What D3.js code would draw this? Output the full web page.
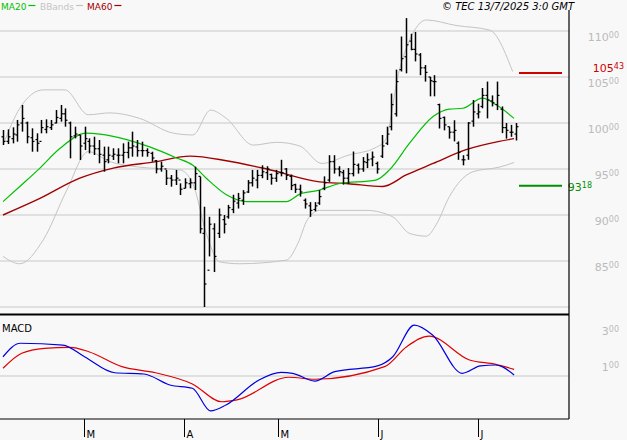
<!DOCTYPE html>
<html>
<head>
<meta charset="utf-8">
<script src="https://cdn.jsdelivr.net/npm/d3@7"></script>
<style>
  body { margin: 0; background: #f8f8f8; }
  svg { display: block; font-family: "DejaVu Sans", sans-serif; }
</style>
</head>
<body>
<svg id="chart" width="627" height="440"></svg>
<script>
// daily bars, index 0..107
const highs = [99.24,99.31,99.53,100.33,101.96,100.15,99.42,98.88,100.33,100.4,
  100.33,101.41,101.96,101.59,100.15,99.6,98.7,99.6,98.33,98.51,
  98.15,97.43,97.43,97.25,97.25,97.79,97.97,99.06,98.15,97.97,
  97.25,96.88,95.98,95.8,94.89,94.35,94.89,93.44,93.99,93.99,
  95.25,94.17,90.9,89.8,89.1,90.7,90.0,91.1,92.2,92.4,
  92.7,93.8,94.9,94.9,95.4,95.3,94.5,94.9,96.0,95.1,
  94.4,93.4,93.3,91.8,91.4,91.4,92.7,94.2,96.5,96.5,
  95.3,94.9,95.1,96.9,95.6,96.3,96.7,96.9,95.8,98.7,
  99.6,103.2,105.8,109.4,111.4,109.7,109.9,107.6,106.3,105.0,
  105.2,102.1,100.7,99.6,100.3,98.0,96.5,100.1,102.5,102.1,
  103.8,104.5,103.0,104.5,101.8,100.0,99.8,100.0];
const lows = [97.61,97.72,97.79,97.97,99.06,97.79,96.88,96.88,98.88,98.88,
  99.24,99.96,100.15,99.6,96.16,98.33,95.98,97.06,96.7,96.52,
  95.62,94.71,95.62,95.98,95.62,95.62,96.16,96.34,96.34,96.34,
  96.34,95.8,94.53,94.71,93.26,93.08,93.26,92.17,92.9,92.9,
  92.72,88.0,80.0,85.5,83.8,87.5,88.0,89.6,90.2,90.7,
  91.1,92.4,93.1,92.9,94.0,93.8,93.3,93.6,94.2,93.8,
  92.7,92.4,92.0,90.7,89.8,90.4,91.1,92.7,93.6,94.5,
  94.2,93.3,93.4,94.2,94.5,94.7,95.1,95.3,94.5,96.2,
  97.6,99.2,100.7,105.6,105.4,107.9,106.7,105.2,104.5,102.9,
  102.9,99.4,99.2,98.3,98.0,96.0,95.4,96.0,99.6,100.5,
  101.6,100.5,101.8,101.4,98.9,98.3,98.5,98.1];
const opens = [98.5,98.0,98.3,98.7,100.0,100.0,98.4,98.2,98.0,99.3,
  99.5,100.0,100.5,101.0,100.0,98.6,98.7,97.8,98.0,97.5,
  97.2,96.5,96.0,96.4,96.5,96.5,96.8,97.3,97.4,97.0,
  97.0,96.7,95.9,95.0,95.0,94.0,93.8,93.8,92.9,93.4,
  93.5,94.2,88.0,84.0,88.5,88.0,89.5,89.8,90.6,91.3,
  91.6,92.5,93.5,93.8,94.3,94.6,94.4,94.0,94.6,95.0,
  94.2,93.3,92.8,91.6,91.0,90.6,91.3,92.9,93.8,95.8,
  95.0,94.6,94.0,94.5,95.4,95.0,95.7,96.1,95.6,96.4,
  97.8,99.6,101.0,105.8,107.2,108.9,108.0,107.4,106.0,105.0,
  104.5,102.0,100.6,99.6,99.0,97.8,96.0,96.5,100.2,101.0,
  101.8,103.0,102.4,102.0,101.5,99.5,99.0,98.8];
const closes = [98.0,98.5,98.8,99.8,100.5,98.5,98.0,97.8,99.5,99.6,
  99.8,100.6,101.0,100.3,98.5,98.8,97.5,98.3,97.5,97.2,
  96.6,95.8,96.5,96.6,96.5,96.8,97.3,97.5,97.0,97.0,
  96.8,96.2,95.0,95.3,94.0,93.8,94.0,92.8,93.5,93.5,
  94.5,88.5,82.5,89.0,85.5,90.0,89.0,90.8,91.5,91.8,
  92.4,93.5,94.0,94.3,94.7,95.0,94.0,94.5,94.6,94.3,
  93.2,92.8,92.5,91.2,90.5,91.0,92.0,93.5,95.8,95.0,
  94.7,94.0,94.5,95.5,95.0,95.8,96.0,96.3,95.0,97.5,
  98.8,102.0,104.5,107.0,108.5,108.0,107.5,106.0,105.5,104.6,
  104.5,100.5,99.8,99.0,99.2,96.8,96.0,100.0,101.2,101.2,
  103.0,102.5,102.2,103.0,99.5,99.2,99.0,99.6];

// indicator lines: [bar index, value]
const ma20 = [[0,91.45],[3.5,93.1],[7.7,95.1],[11.9,97.25],[17.4,98.9],[20.2,98.8],[25.8,98.2],
  [30.6,97.4],[36.2,96.2],[39.6,95.4],[42.4,94.0],[46.6,92.2],[50.8,91.45],[59.1,91.45],
  [62,92.3],[66,92.7],[70,93.4],[77.8,93.8],[80.6,94.9],[84.8,97.8],[89.7,100.7],
  [93.1,101.5],[95.9,101.6],[100,102.7],[102.8,102.0],[106.6,100.5]];
const ma60 = [[0,90.0],[7.7,91.8],[16,94.0],[23,95.1],[31.9,95.8],[39,96.4],[46.6,95.9],
  [55,95.0],[66,93.6],[72,93.4],[79.2,93.1],[84.1,94.35],[89.7,95.6],[96.6,97.1],
  [103.5,98.0],[106.6,98.3]];
const bbUpper = [[0,97.6],[3.5,101.6],[8.4,103.6],[12.9,103.6],[17.8,100.9],[22.3,101.1],
  [28.5,100.5],[35.5,98.9],[39.6,98.7],[43.3,101.4],[46.6,100.5],[52.2,97.6],[57.1,97.9],
  [61.9,97.5],[66.5,95.6],[72,96.5],[77.6,97.3],[79.7,98.1],[82.6,105.6],[84.8,109.0],
  [88.3,111.2],[94.5,110.6],[101.5,110.1],[106.3,105.6]];
const bbLower = [[0,85.5],[3.5,84.7],[8.4,87.3],[13.3,92.7],[17.8,96.9],[22.3,95.8],
  [28.5,95.2],[36.9,94.9],[39.6,93.4],[42.4,88.0],[45.2,84.9],[49.4,84.7],[59.1,85.1],
  [61.5,86.9],[63.5,89.5],[66,90.5],[75.8,90.5],[81.3,89.8],[84.8,88.0],[88.3,87.7],
  [90.4,89.0],[93.1,92.0],[98,94.7],[103.5,95.2],[106.6,95.7]];
const macdLine = [[0,2.07],[3.6,2.82],[12.5,2.72],[17,2.07],[23.3,1.18],[29.4,1.11],[34.8,0.5],
  [39.5,0.32],[43.3,-0.94],[46.5,-0.61],[53.4,0.78],[58,1.2],[60.4,1.15],[65,0.72],
  [69.2,1.24],[78.1,1.56],[81.3,2.07],[85.8,3.83],[89.6,3.28],[95.8,1.15],[99.6,1.56],
  [102.8,1.61],[106.6,1.06]];
const signalLine = [[0,1.43],[3.9,2.26],[8.6,2.54],[14,2.59],[17.9,2.35],[24.8,1.52],[31.8,1.18],
  [39.5,0.56],[45.6,-0.43],[48.8,-0.33],[59.6,0.93],[65,0.82],[79.6,1.52],[84.2,2.63],
  [88.9,3.22],[97.3,1.89],[102.8,1.65],[106.6,1.37]];

const priceTicks = [85, 90, 95, 100, 105, 110];
const macdTicks = [1, 3];
const monthLabels = ["M", "A", "M", "J", "J"];
const monthIdx = [16.9, 37.8, 57.4, 78.2, 99.1];
const resistance = 105.43, support = 93.18;

const svg = d3.select("#chart");
const W = 569;
const x = d3.scaleLinear().domain([0, 107]).range([3, 516]);
const y = d3.scaleLinear().domain([80, 110]).range([307, 31]);
const ym = d3.scaleLinear().domain([1, 3]).range([376, 340]);

svg.append("rect").attr("width", 627).attr("height", 440).attr("fill", "#f8f8f8");

// grid
svg.selectAll(".pg").data(priceTicks.concat([80])).join("line")
  .attr("x1", 0).attr("x2", W).attr("y1", d => y(d)).attr("y2", d => y(d))
  .attr("stroke", "#c8c8c8");
svg.append("line").attr("x1", 0).attr("x2", W).attr("y1", ym(1)).attr("y2", ym(1)).attr("stroke", "#c8c8c8");

// number with small raised decimals, right aligned at xr
function labelNum(v, xr, yy, color) {
  const t = svg.append("text").attr("x", xr).attr("y", yy).attr("text-anchor", "end")
    .attr("fill", color).attr("font-size", 11);
  t.append("tspan").text(Math.floor(v));
  t.append("tspan").attr("font-size", 8).attr("dy", -3)
    .text(String(Math.round((v % 1) * 100)).padStart(2, "0"));
  return t;
}
priceTicks.forEach(v => labelNum(v, 619, y(v) + 10, "#bbb"));
macdTicks.forEach(v => labelNum(v, 619, ym(v) - 5, "#bbb"));

// bands and averages
const line = d3.line().x(d => x(d[0])).y(d => y(d[1])).curve(d3.curveMonotoneX);
svg.append("path").attr("d", line(bbUpper)).attr("fill", "none").attr("stroke", "#c4c4c4");
svg.append("path").attr("d", line(bbLower)).attr("fill", "none").attr("stroke", "#c4c4c4");
svg.append("path").attr("d", line(ma60)).attr("fill", "none").attr("stroke", "#a00000").attr("stroke-width", 1.4);
svg.append("path").attr("d", line(ma20)).attr("fill", "none").attr("stroke", "#00c000").attr("stroke-width", 1.2);

// bars
const bars = svg.append("g").attr("stroke", "#000").attr("stroke-width", 1.5);
closes.forEach((c, i) => {
  const xi = Math.round(x(i)) + 0.5;
  bars.append("line").attr("x1", xi).attr("x2", xi).attr("y1", y(highs[i])).attr("y2", y(lows[i]));
  bars.append("line").attr("x1", xi - 2).attr("x2", xi).attr("y1", y(opens[i])).attr("y2", y(opens[i])).attr("stroke-width", 1.2);
  bars.append("line").attr("x1", xi).attr("x2", xi + 2).attr("y1", y(c)).attr("y2", y(c)).attr("stroke-width", 1.2);
});

// levels
svg.append("line").attr("x1", 519).attr("x2", 562).attr("y1", y(resistance)).attr("y2", y(resistance))
  .attr("stroke", "#d00000").attr("stroke-width", 2);
svg.append("line").attr("x1", 519).attr("x2", 562).attr("y1", y(support)).attr("y2", y(support))
  .attr("stroke", "#009000").attr("stroke-width", 2);
labelNum(resistance, 624, y(resistance) - 1, "#d00000");
labelNum(support, 592, y(support) + 5, "#009000");

// macd
const mline = d3.line().x(d => x(d[0])).y(d => ym(d[1])).curve(d3.curveMonotoneX);
svg.append("path").attr("d", mline(signalLine)).attr("fill", "none").attr("stroke", "#e00000").attr("stroke-width", 1.2);
svg.append("path").attr("d", mline(macdLine)).attr("fill", "none").attr("stroke", "#0000e0").attr("stroke-width", 1.2);
svg.append("text").attr("x", 2).attr("y", 332).attr("font-size", 10).attr("fill", "#000").text("MACD");

// frames
svg.append("line").attr("x1", 0).attr("x2", W).attr("y1", 314.5).attr("y2", 314.5).attr("stroke", "#000").attr("stroke-width", 2);
svg.append("line").attr("x1", W).attr("x2", W).attr("y1", 10).attr("y2", 419).attr("stroke", "#000").attr("stroke-width", 1.2);
svg.append("line").attr("x1", 0).attr("x2", W).attr("y1", 419).attr("y2", 419).attr("stroke", "#000").attr("stroke-width", 1.2);

// month axis
const mg = svg.append("g");
monthIdx.forEach((m, k) => {
  const xm = Math.round(x(m)) + 0.5;
  mg.append("line").attr("x1", xm).attr("x2", xm).attr("y1", 419).attr("y2", 437).attr("stroke", "#000");
  mg.append("text").attr("x", xm + 2).attr("y", 438).attr("font-size", 10).attr("fill", "#000").text(monthLabels[k]);
});

// header
const leg = [["MA20", "#00c000", 1], ["BBands", "#c4c4c4", 40], ["MA60", "#a00000", 87]];
leg.forEach(([t, c, lx]) => {
  const tx = svg.append("text").attr("x", lx).attr("y", 10).attr("font-size", 9).attr("fill", c).text(t);
  const w = tx.node().getComputedTextLength();
  svg.append("line").attr("x1", lx + w + 2).attr("x2", lx + w + 9).attr("y1", 5.5).attr("y2", 5.5).attr("stroke", c).attr("stroke-width", 1.2);
});
svg.append("text").attr("x", 574).attr("y", 10).attr("text-anchor", "end").attr("font-size", 10)
  .attr("font-style", "italic").attr("fill", "#000").text("© TEC 13/7/2025 3:0 GMT");
</script>
</body>
</html>
